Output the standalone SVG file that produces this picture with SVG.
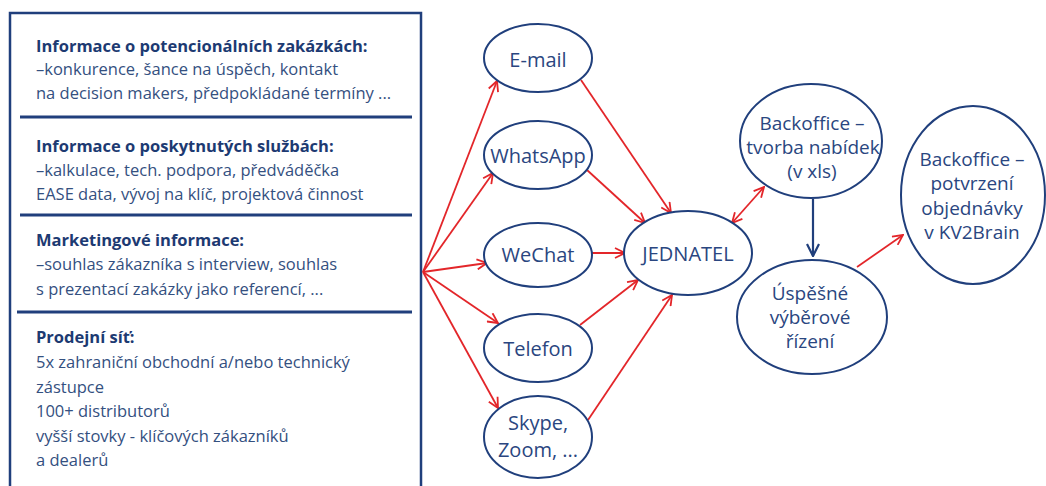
<svg xmlns="http://www.w3.org/2000/svg" width="1046" height="486" viewBox="0 0 1046 486">
<defs>
<style>
.box{fill:none;stroke:#203f7c;stroke-width:2.5}
.div{stroke:#203f7c;stroke-width:3}
.node{fill:#fff;stroke:#203f7c;stroke-width:2}
.h{font-family:"Open Sans","Liberation Sans",sans-serif;font-weight:bold;font-size:16.5px;fill:#1d3a72}
.b{font-family:"Open Sans","Liberation Sans",sans-serif;font-size:16.5px;fill:#34507f}
.t{font-family:"Open Sans","Liberation Sans",sans-serif;font-size:20px;fill:#2a4680;text-anchor:middle}
.s{font-family:"Open Sans","Liberation Sans",sans-serif;font-size:19px;fill:#2a4680;text-anchor:middle}
.r{fill:none;stroke:#e3262a;stroke-width:1.8}
.n{fill:none;stroke:#203f7c;stroke-width:2.2}
</style>
<marker id="ar" viewBox="0 0 12 12" refX="11" refY="6" markerWidth="12" markerHeight="12" markerUnits="userSpaceOnUse" orient="auto-start-reverse">
<path d="M1,1 L11,6 L1,11" fill="none" stroke="#e3262a" stroke-width="1.8"/>
</marker>
<marker id="an" viewBox="0 0 14 14" refX="13" refY="7" markerWidth="14" markerHeight="14" markerUnits="userSpaceOnUse" orient="auto">
<path d="M1,1 L13,7 L1,13" fill="none" stroke="#203f7c" stroke-width="2.2"/>
</marker>
</defs>
<rect width="1046" height="486" fill="#fff"/>
<g id="info-box">
<rect class="box" x="10" y="13" width="411" height="490"/>
<line class="div" x1="20" y1="117" x2="412" y2="117"/>
<line class="div" x1="20" y1="215" x2="412" y2="215"/>
<line class="div" x1="17" y1="312" x2="412" y2="312"/>
<text class="h" x="36" y="52">Informace o potencionálních zakázkách:</text>
<text class="b" x="36" y="75">–konkurence, šance na úspěch, kontakt</text>
<text class="b" x="36" y="99">na decision makers, předpokládané termíny ...</text>
<text class="h" x="36" y="152">Informace o poskytnutých službách:</text>
<text class="b" x="36" y="176">–kalkulace, tech. podpora, předváděčka</text>
<text class="b" x="36" y="200">EASE data, vývoj na klíč, projektová činnost</text>
<text class="h" x="36" y="246">Marketingové informace:</text>
<text class="b" x="36" y="270">–souhlas zákazníka s interview, souhlas</text>
<text class="b" x="36" y="295">s prezentací zakázky jako referencí, ...</text>
<text class="h" x="36" y="343">Prodejní síť:</text>
<text class="b" x="36" y="368">5x zahraniční obchodní a/nebo technický</text>
<text class="b" x="36" y="393">zástupce</text>
<text class="b" x="36" y="417">100+ distributorů</text>
<text class="b" x="36" y="442">vyšší stovky - klíčových zákazníků</text>
<text class="b" x="36" y="466">a dealerů</text>
</g>
<g id="connectors">
<line class="r" x1="423" y1="272" x2="497" y2="81" marker-end="url(#ar)"/>
<line class="r" x1="423" y1="272" x2="493" y2="173" marker-end="url(#ar)"/>
<line class="r" x1="423" y1="272" x2="487" y2="263" marker-end="url(#ar)"/>
<line class="r" x1="423" y1="272" x2="498" y2="323" marker-end="url(#ar)"/>
<line class="r" x1="423" y1="272" x2="498" y2="408" marker-end="url(#ar)"/>
<line class="r" x1="581" y1="80" x2="671" y2="213" marker-end="url(#ar)"/>
<line class="r" x1="587" y1="170" x2="645" y2="223" marker-end="url(#ar)"/>
<line class="r" x1="592" y1="253" x2="625" y2="253" marker-end="url(#ar)"/>
<line class="r" x1="580" y1="325" x2="638" y2="280" marker-end="url(#ar)"/>
<line class="r" x1="588" y1="420" x2="672" y2="295" marker-end="url(#ar)"/>
<line class="r" x1="732" y1="223" x2="764" y2="187" marker-start="url(#ar)" marker-end="url(#ar)"/>
<line class="n" x1="813" y1="199" x2="813" y2="256" marker-end="url(#an)"/>
<line class="r" x1="857" y1="267" x2="903" y2="235" marker-end="url(#ar)"/>
</g>
<g id="email">
<ellipse class="node" cx="538" cy="58" rx="54" ry="34"/>
<text class="t" x="538" y="67">E-mail</text>
</g>
<g id="whatsapp">
<ellipse class="node" cx="538" cy="155" rx="54" ry="34"/>
<text class="t" x="538" y="163">WhatsApp</text>
</g>
<g id="wechat">
<ellipse class="node" cx="538" cy="255" rx="54" ry="32"/>
<text class="t" x="538" y="262">WeChat</text>
</g>
<g id="telefon">
<ellipse class="node" cx="538" cy="348" rx="54" ry="34"/>
<text class="t" x="538" y="356">Telefon</text>
</g>
<g id="skype">
<ellipse class="node" cx="538" cy="437" rx="54" ry="41"/>
<text class="t" x="538" y="430">Skype,</text>
<text class="t" x="538" y="457">Zoom, ...</text>
</g>
<g id="jednatel">
<ellipse class="node" cx="688" cy="253" rx="64" ry="42"/>
<text class="t" x="688" y="261">JEDNATEL</text>
</g>
<g id="backoffice-tvorba">
<ellipse class="node" cx="811" cy="141" rx="71" ry="57"/>
<text class="s" x="812" y="130">Backoffice –</text>
<text class="s" x="813" y="154">tvorba nabídek</text>
<text class="s" x="812" y="178">(v xls)</text>
</g>
<g id="uspesne">
<ellipse class="node" cx="812" cy="317" rx="75" ry="57"/>
<text class="s" x="810" y="300">Úspěšné</text>
<text class="s" x="810" y="324">výběrové</text>
<text class="s" x="810" y="348">řízení</text>
</g>
<g id="backoffice-potvrzeni">
<ellipse class="node" cx="973" cy="195" rx="72" ry="89"/>
<text class="s" x="972" y="166">Backoffice –</text>
<text class="s" x="972" y="190">potvrzení</text>
<text class="s" x="972" y="215">objednávky</text>
<text class="s" x="972" y="239">v KV2Brain</text>
</g>
</svg>
